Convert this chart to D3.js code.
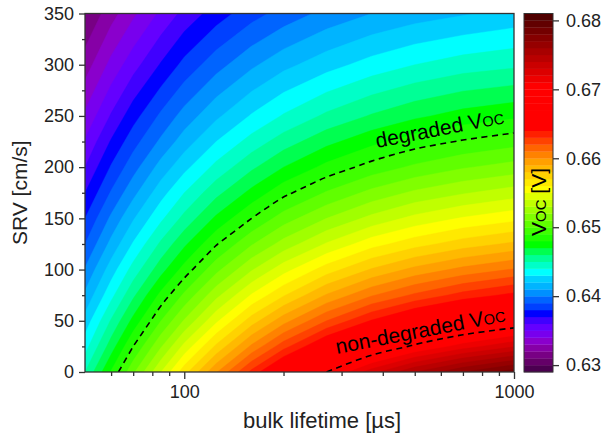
<!DOCTYPE html>
<html>
<head>
<meta charset="utf-8">
<script src="https://cdn.jsdelivr.net/npm/d3@7"></script>
<style>
	body{
		margin: 0;
		background: #fff;
	}
	svg{
		display: block;
		font-family: "Liberation Sans", Arial, sans-serif;
	}
</style>
</head>
<body>
<svg width="605" height="437"></svg>
<script>
	// grid: columns = bulk lifetime [µs], rows = SRV [cm/s]
	var lifetimes = [50, 60, 70, 85, 100, 125, 160, 200, 270, 370, 500, 700, 1000];
	var srvs = [0, 25, 50, 75, 100, 125, 150, 175, 200, 225, 250, 300, 350];
	var vocRows = [
		[0.6450, 0.6481, 0.6508, 0.6540, 0.6566, 0.6599, 0.6633, 0.6661, 0.6695, 0.6726, 0.6750, 0.6770, 0.6786],
		[0.6436, 0.6465, 0.6490, 0.6519, 0.6543, 0.6572, 0.6602, 0.6626, 0.6654, 0.6679, 0.6698, 0.6715, 0.6729],
		[0.6424, 0.6451, 0.6473, 0.6500, 0.6521, 0.6548, 0.6575, 0.6596, 0.6620, 0.6641, 0.6657, 0.6671, 0.6682],
		[0.6412, 0.6437, 0.6458, 0.6483, 0.6502, 0.6527, 0.6551, 0.6569, 0.6591, 0.6609, 0.6622, 0.6634, 0.6643],
		[0.6401, 0.6425, 0.6444, 0.6466, 0.6484, 0.6507, 0.6529, 0.6546, 0.6565, 0.6581, 0.6593, 0.6603, 0.6611],
		[0.6390, 0.6413, 0.6431, 0.6452, 0.6468, 0.6489, 0.6509, 0.6524, 0.6541, 0.6556, 0.6566, 0.6575, 0.6582],
		[0.6380, 0.6402, 0.6419, 0.6438, 0.6453, 0.6472, 0.6490, 0.6505, 0.6520, 0.6533, 0.6543, 0.6551, 0.6557],
		[0.6370, 0.6391, 0.6407, 0.6426, 0.6440, 0.6457, 0.6473, 0.6487, 0.6501, 0.6513, 0.6522, 0.6529, 0.6535],
		[0.6360, 0.6381, 0.6396, 0.6414, 0.6427, 0.6443, 0.6458, 0.6470, 0.6483, 0.6494, 0.6502, 0.6509, 0.6514],
		[0.6351, 0.6371, 0.6386, 0.6402, 0.6415, 0.6430, 0.6444, 0.6455, 0.6467, 0.6477, 0.6485, 0.6491, 0.6496],
		[0.6342, 0.6361, 0.6376, 0.6392, 0.6404, 0.6418, 0.6431, 0.6441, 0.6452, 0.6461, 0.6468, 0.6474, 0.6478],
		[0.6325, 0.6343, 0.6356, 0.6371, 0.6383, 0.6396, 0.6408, 0.6417, 0.6426, 0.6434, 0.6440, 0.6445, 0.6448],
		[0.6310, 0.6326, 0.6338, 0.6352, 0.6363, 0.6375, 0.6386, 0.6394, 0.6403, 0.6410, 0.6415, 0.6419, 0.6423]
	];
	var levelMin = 0.629, levelCount = 52, levelStep = 0.001;
	var isoValues = [0.649, 0.6695];
	var isoLabels = ["degraded V", "non-degraded V"];

	var xTicks = [100, 1000];
	var xMinorTicks = [60, 70, 80, 90, 200, 300, 400, 500, 600, 700, 800, 900];
	var yTicks = [0, 50, 100, 150, 200, 250, 300, 350];
	var yMinorTicks = [25, 75, 125, 175, 225, 275, 325];
	var cbTicks = [0.63, 0.64, 0.65, 0.66, 0.67, 0.68];

	// palette (Origin style rainbow with dark ends)
	var paletteStops = [0.6295, 0.6305, 0.6315, 0.6325, 0.6335, 0.6345, 0.6355, 0.6365, 0.6375, 0.6385, 0.6395, 0.6405,
		0.6415, 0.6425, 0.6435, 0.6445, 0.6455, 0.6465, 0.6475, 0.6515, 0.6555, 0.6575, 0.6595, 0.6615, 0.6635, 0.6645,
		0.6705, 0.6805];
	var paletteColors = ["#4b0050", "#640068", "#780084", "#8600a6", "#8a00cc", "#7800ee", "#6400ff", "#4000ff", "#0000ff",
		"#0040ff", "#0064ff", "#0090ff", "#00b4ff", "#00d0ff", "#00ffff", "#00ffc8", "#00ff96", "#00ff50", "#00ff00",
		"#80ff00", "#ffff00", "#ffd200", "#ffa000", "#ff6400", "#ff2000", "#ff0000", "#ff0000", "#500000"];

	var svg = d3.select("svg");
	var pLeft = 85, pRight = 514, pTop = 13.5, pBottom = 372;
	var cbLeft = 524, cbRight = 553;

	var x = d3.scaleLog().domain([50, 1000]).range([pLeft, pRight]);
	var y = d3.scaleLinear().domain([0, 350]).range([pBottom, pTop]);
	var color = d3.scaleLinear().domain(paletteStops).range(paletteColors).clamp(true);

	var n = lifetimes.length, m = srvs.length;
	var xIdx = d3.scaleLinear().domain(d3.range(n)).range(lifetimes.map(function(d){ return x(d); })).clamp(true);
	var yIdx = d3.scaleLinear().domain(d3.range(m)).range(srvs.map(function(d){ return y(d); })).clamp(true);

	var flat = [];
	vocRows.forEach(function(row){ row.forEach(function(v){ flat.push(v); }); });

	var levels = d3.range(levelCount).map(function(i){ return +(levelMin + i * levelStep).toFixed(4); });

	function ringPath(ring){
		return "M" + ring.map(function(p){ return xIdx(p[0] - 0.5).toFixed(2) + "," + yIdx(p[1] - 0.5).toFixed(2); }).join("L") + "Z";
	}
	function bandPath(c){
		return c.coordinates.map(function(poly){ return poly.map(ringPath).join(""); }).join("");
	}

	svg.append("clipPath").attr("id", "plotClip")
		.append("rect").attr("x", pLeft).attr("y", pTop).attr("width", pRight - pLeft).attr("height", pBottom - pTop);

	var bands = svg.append("g").attr("clip-path", "url(#plotClip)");
	bands.selectAll("path")
		.data(d3.contours().size([n, m]).thresholds(levels)(flat))
		.enter().append("path")
		.attr("d", bandPath)
		.attr("fill", function(d){ return color(d.value + levelStep / 2); })
		.attr("stroke", function(d){ return color(d.value + levelStep / 2); })
		.attr("stroke-width", 0.4);

	// iso lines without the parts that run along the frame
	function onFrame(a, b){
		var e = 0.01;
		return (Math.abs(a[0] - pLeft) < e && Math.abs(b[0] - pLeft) < e) ||
			(Math.abs(a[0] - pRight) < e && Math.abs(b[0] - pRight) < e) ||
			(Math.abs(a[1] - pTop) < e && Math.abs(b[1] - pTop) < e) ||
			(Math.abs(a[1] - pBottom) < e && Math.abs(b[1] - pBottom) < e);
	}
	function isoLines(level){
		var c = d3.contours().size([n, m]).thresholds([level])(flat)[0];
		var lines = [];
		c.coordinates.forEach(function(poly){
			poly.forEach(function(ring){
				var pts = ring.map(function(p){ return [xIdx(p[0] - 0.5), yIdx(p[1] - 0.5)]; });
				pts.pop();
				var k0 = 0;
				for (var k = 0; k < pts.length; k++){
					if (onFrame(pts[k], pts[(k + 1) % pts.length])){ k0 = k + 1; break; }
				}
				var cur = [];
				for (var s = 0; s < pts.length; s++){
					var a = pts[(k0 + s) % pts.length], b = pts[(k0 + s + 1) % pts.length];
					if (onFrame(a, b)){
						if (cur.length > 1) lines.push(cur);
						cur = [];
					} else {
						if (!cur.length) cur.push(a);
						cur.push(b);
					}
				}
				if (cur.length > 1) lines.push(cur);
			});
		});
		return lines;
	}

	var line = d3.line().curve(d3.curveCatmullRom.alpha(0.5));
	isoValues.forEach(function(v){
		bands.selectAll(null)
			.data(isoLines(v))
			.enter().append("path")
			.attr("d", line)
			.attr("fill", "none")
			.attr("stroke", "#000")
			.attr("stroke-width", 1.6)
			.attr("stroke-dasharray", "6,4.5");
	});

	var labelPos = [[377, 148, -11], [337, 354, -11]];
	isoLabels.forEach(function(t, i){
		var lt = svg.append("text")
			.attr("transform", "translate(" + labelPos[i][0] + "," + labelPos[i][1] + ") rotate(" + labelPos[i][2] + ")")
			.style("font-size", "21px")
			.attr("fill", "#000")
			.text(t);
		lt.append("tspan").style("font-size", "14.5px").text("OC");
	});

	// frame
	svg.append("rect")
		.attr("x", pLeft).attr("y", pTop).attr("width", pRight - pLeft).attr("height", pBottom - pTop)
		.attr("fill", "none").attr("stroke", "#333").attr("stroke-width", 1.3);

	// axes
	svg.append("g").attr("transform", "translate(0," + pBottom + ")")
		.call(d3.axisBottom(x).tickValues(xTicks).tickSize(7).tickPadding(6).tickFormat(d3.format("d")));
	svg.append("g").attr("transform", "translate(0," + pBottom + ")")
		.call(d3.axisBottom(x).tickValues(xMinorTicks).tickSize(4).tickFormat(""));
	svg.append("g").attr("transform", "translate(" + pLeft + ",0)")
		.call(d3.axisLeft(y).tickValues(yTicks).tickSize(6).tickPadding(5));
	svg.append("g").attr("transform", "translate(" + pLeft + ",0)")
		.call(d3.axisLeft(y).tickValues(yMinorTicks).tickSize(3).tickFormat(""));

	svg.selectAll(".domain").remove();
	svg.selectAll(".tick line").attr("stroke", "#333").attr("stroke-width", 1.3);
	svg.selectAll(".tick text").attr("fill", "#222").style("font-size", "18px").style("font-family", "\"Liberation Sans\", Arial, sans-serif");

	svg.append("text")
		.attr("x", 322).attr("y", 428)
		.attr("text-anchor", "middle")
		.style("font-size", "22px").attr("fill", "#222")
		.text("bulk lifetime [µs]");
	svg.append("text")
		.attr("transform", "translate(27," + (pTop + pBottom) / 2 + ") rotate(-90)")
		.attr("text-anchor", "middle")
		.style("font-size", "21px").attr("fill", "#222")
		.text("SRV [cm/s]");

	// colour bar
	var cy = d3.scaleLinear().domain([levelMin, levelMin + levelCount * levelStep]).range([pBottom, pTop]);
	svg.append("g").selectAll("rect")
		.data(levels)
		.enter().append("rect")
		.attr("x", cbLeft)
		.attr("width", cbRight - cbLeft)
		.attr("y", function(d){ return cy(d + levelStep); })
		.attr("height", function(d){ return cy(d) - cy(d + levelStep) + 0.3; })
		.attr("fill", function(d){ return color(d + levelStep / 2); });
	svg.append("rect")
		.attr("x", cbLeft).attr("y", pTop).attr("width", cbRight - cbLeft).attr("height", pBottom - pTop)
		.attr("fill", "none").attr("stroke", "#333").attr("stroke-width", 1);
	var cbAxis = svg.append("g").attr("transform", "translate(" + cbRight + ",0)")
		.call(d3.axisRight(cy).tickValues(cbTicks).tickSize(6).tickPadding(7).tickFormat(d3.format(".2f")));
	cbAxis.select(".domain").remove();
	cbAxis.selectAll(".tick line").attr("stroke", "#333").attr("stroke-width", 1.3);
	cbAxis.selectAll(".tick text").attr("fill", "#222").style("font-size", "18px").style("font-family", "\"Liberation Sans\", Arial, sans-serif");

	var cbLabel = svg.append("text")
		.attr("transform", "translate(546,202) rotate(-90)")
		.attr("text-anchor", "middle")
		.style("font-size", "21px").attr("fill", "#000")
		.text("V");
	cbLabel.append("tspan").style("font-size", "15px").text("OC");
	cbLabel.append("tspan").text(" [V]");
</script>
</body>
</html>
